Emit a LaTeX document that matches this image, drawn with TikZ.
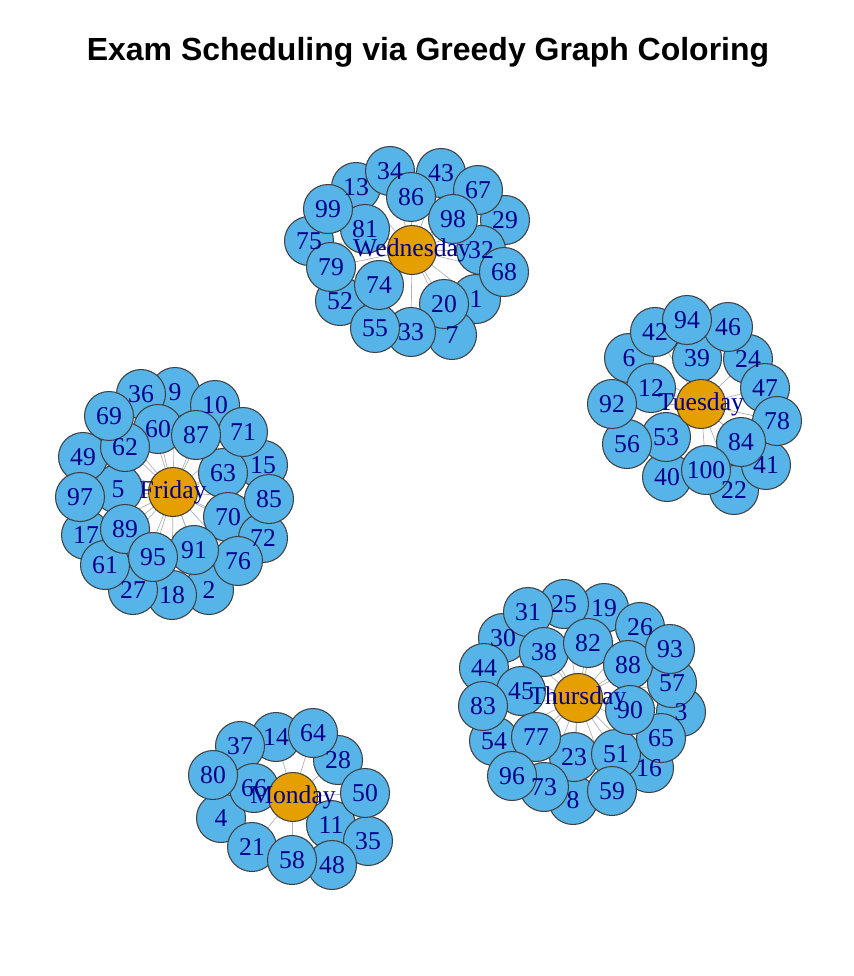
\documentclass[tikz,border=0pt]{standalone}
\usepackage{fontspec}
\setmainfont{Liberation Serif}
\newfontfamily\titlefont{Liberation Sans}
\usetikzlibrary{backgrounds}
\definecolor{examblue}{RGB}{86,180,233}
\definecolor{dayorange}{RGB}{230,159,0}
\definecolor{lblblue}{RGB}{0,0,139}
\tikzset{
  exam/.style  = {circle,draw=black!75,line width=0.6pt,fill=examblue,
                  minimum size=0.98cm,inner sep=0pt},
  day/.style   = {exam,fill=dayorange},
  lbl/.style   = {text=lblblue,font=\fontsize{14.6}{16}\selectfont,inner sep=0pt},
  edge/.style  = {draw=black!30,line width=0.4pt},
  title/.style = {font=\titlefont\bfseries\fontsize{18.2}{21}\selectfont,anchor=base},
}

\begin{document}
\begin{tikzpicture}[x=0.02cm,y=-0.02cm]
  \useasboundingbox (0,0) rectangle (853,976);
  \node[title] (title) at (428,61) {Exam Scheduling via Greedy Graph Coloring};

  % exams, drawn in numeric order
  \foreach \i/\x/\y in {
    1/476/299, 2/209/590, 3/681/712, 4/221/818, 5/118/489,
    6/629/358, 7/452/335, 8/573/800, 9/175/392, 10/215/405,
    11/331/825, 12/651/388, 13/356/187, 14/276/737, 15/263/465,
    16/649/768, 17/86/535, 18/172/595, 19/604/608, 20/444/304,
    21/252/847, 22/734/490, 23/574/757, 24/748/359, 25/564/604,
    26/640/627, 27/133/590, 28/338/760, 29/505/220, 30/503/638,
    31/528/612, 32/481/250, 33/411/332, 34/390/171, 35/368/841,
    36/141/394, 37/240/746, 38/544/652, 39/697/358, 40/667/477,
    41/766/465, 42/655/332, 43/441/173, 44/484/668, 45/521/691,
    46/728/327, 47/765/388, 48/332/865, 49/83/457, 50/365/793,
    51/616/754, 52/340/301, 53/666/437, 54/494/741, 55/375/328,
    56/627/444, 57/672/683, 58/292/860, 59/612/791, 60/158/429,
    61/105/565, 62/125/447, 63/223/473, 64/313/733, 65/661/738,
    66/254/788, 67/478/190, 68/504/272, 69/109/416, 70/228/517,
    71/243/432, 72/263/538, 73/544/787, 74/379/285, 75/309/241,
    76/238/561, 77/536/737, 78/777/421, 79/331/267, 80/213/775,
    81/365/229, 82/588/643, 83/483/706, 84/741/442, 85/269/499,
    86/411/197, 87/196/435, 88/628/665, 89/125/529, 90/630/710,
    91/194/550, 92/612/404, 93/670/649, 94/687/320, 95/153/557,
    96/512/776, 97/80/497, 98/453/219, 99/328/209, 100/706/470}
    \node[exam] (n\i) at (\x,\y) {};

  % colour classes
  \node[day] (wed) at (412,250) {};
  \node[day] (tue) at (701,404) {};
  \node[day] (fri) at (173,492) {};
  \node[day] (thu) at (578,698) {};
  \node[day] (mon) at (293,797) {};

  \begin{scope}[on background layer]
    \foreach \d/\list in {
      wed/{1,7,13,20,29,32,33,34,43,52,55,67,68,74,75,79,81,86,98,99},
      tue/{6,12,22,24,39,40,41,42,46,47,53,56,78,84,92,94,100},
      fri/{2,5,9,10,15,17,18,27,36,49,60,61,62,63,69,70,71,72,76,85,87,89,91,95,97},
      thu/{3,8,16,19,23,25,26,30,31,38,44,45,51,54,57,59,65,73,77,82,83,88,90,93,96},
      mon/{4,11,14,21,28,35,37,48,50,58,64,66,80}}
      \foreach \i in \list
        \draw[edge] (\d.center) -- (n\i.center);
  \end{scope}

  % labels on top
  \foreach \i in {1,...,100}
    \node[lbl] (l\i) at (n\i) {\i};
  \node[lbl] (lwed) at (wed) {Wednesday};
  \node[lbl] (ltue) at (tue) {Tuesday};
  \node[lbl] (lfri) at (fri) {Friday};
  \node[lbl] (lthu) at (thu) {Thursday};
  \node[lbl] (lmon) at (mon) {Monday};
\end{tikzpicture}
\end{document}
